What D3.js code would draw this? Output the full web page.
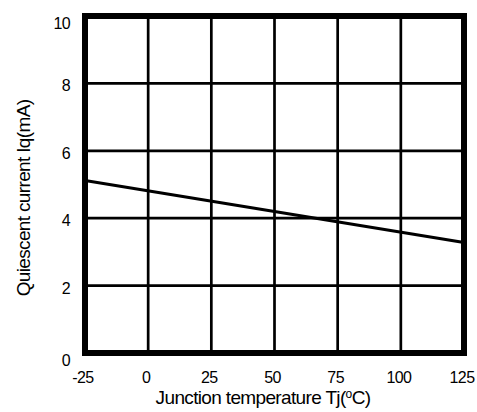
<!DOCTYPE html>
<html><head><meta charset="utf-8">
<script src="https://cdn.jsdelivr.net/npm/d3@7"></script>
<style>body{margin:0;background:#fff}svg{display:block}text{font-family:"Liberation Sans",Arial,sans-serif;fill:#000}</style>
</head><body><svg id="c" width="477" height="412"></svg>
<script>
const xTicks = [-25, 0, 25, 50, 75, 100, 125];
const yTicks = [0, 2, 4, 6, 8, 10];
const tempC = [-25, 125];
const iqmA = [5.12, 3.28];
const xTitle = "Junction temperature Tj(";
const yTitle = "Quiescent current Iq(mA)";

const svg = d3.select("#c");
const x = d3.scaleLinear().domain([-25, 125]).range([85, 464]);
const y = d3.scaleLinear().domain([0, 10]).range([353, 16]);

// grid
svg.append("g").selectAll("line").data(xTicks.slice(1, -1)).join("line")
  .attr("x1", d => x(d)).attr("x2", d => x(d)).attr("y1", y(10)).attr("y2", y(0))
  .attr("stroke", "#000").attr("stroke-width", 2.7);
svg.append("g").selectAll("line").data(yTicks.slice(1, -1)).join("line")
  .attr("y1", d => y(d)).attr("y2", d => y(d)).attr("x1", x(-25)).attr("x2", x(125))
  .attr("stroke", "#000").attr("stroke-width", 2.7);

// data line
const pts = tempC.map((t, i) => [t, iqmA[i]]);
svg.append("path").datum(pts)
  .attr("d", d3.line().x(d => x(d[0])).y(d => y(d[1])))
  .attr("fill", "none").attr("stroke", "#000").attr("stroke-width", 3);

// frame
svg.append("rect").attr("x", x(-25)).attr("y", y(10))
  .attr("width", x(125) - x(-25)).attr("height", y(0) - y(10))
  .attr("fill", "none").attr("stroke", "#000").attr("stroke-width", 6);

// tick labels
svg.append("g").selectAll("text").data(xTicks).join("text")
  .attr("x", d => x(d) - 2).attr("y", 383).attr("text-anchor", "middle")
  .attr("font-size", 16).attr("letter-spacing", -0.6).text(d => d);
svg.append("g").selectAll("text").data(yTicks).join("text")
  .attr("x", 70).attr("y", d => y(d) + (d === 10 ? 13 : d === 0 ? 13 : 8)).attr("text-anchor", "end")
  .attr("font-size", 16).attr("letter-spacing", -0.6).text(d => d);

// titles
const xt = svg.append("text").attr("x", 263).attr("y", 404).attr("text-anchor", "middle")
  .attr("font-size", 19).attr("letter-spacing", -0.65);
xt.append("tspan").text(xTitle);
xt.append("tspan").attr("dy", -6).attr("font-size", 12).text("o");
xt.append("tspan").attr("dy", 6).text("C)");

svg.append("text").attr("transform", "translate(30,198) rotate(-90)")
  .attr("text-anchor", "middle").attr("font-size", 19).attr("letter-spacing", -0.65)
  .text(yTitle);
</script></body></html>
